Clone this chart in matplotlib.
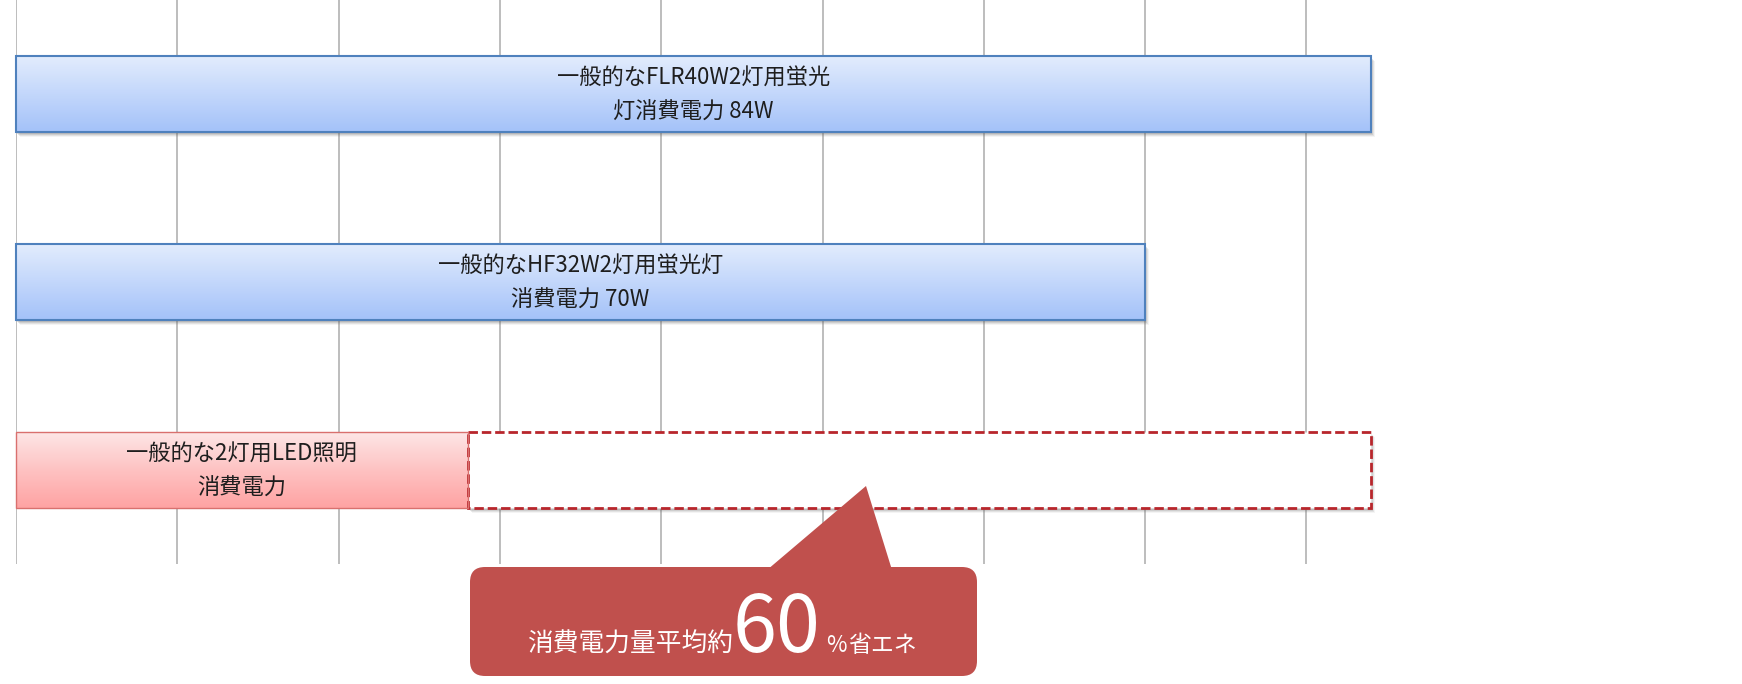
import numpy as np
import matplotlib.pyplot as plt
from matplotlib.colors import LinearSegmentedColormap
from matplotlib.patches import Rectangle, FancyBboxPatch, Polygon
from matplotlib.transforms import IdentityTransform, offset_copy

plt.rcParams['font.family'] = ['Noto Sans CJK JP', 'DejaVu Sans']

# data
line1 = ['一般的なFLR40W2灯用蛍光', '一般的なHF32W2灯用蛍光灯', '一般的な2灯用LED照明']
line2 = ['灯消費電力 84W', '消費電力 70W', '消費電力']
watts = [84, 70, 28]
reference_w = 84
callout_parts = ['消費電力量平均約', '60', '%', '省エネ']

W, H = 1742, 684
fig = plt.figure(figsize=(W / 100, H / 100), dpi=100)
ax = fig.add_axes([16 / W, 1 - 564 / H, (1371 - 16) / W, 564 / H])
ax.set_xlim(0, 84)
ax.set_ylim(2.5, -0.5)
ax.set_xticks(np.arange(0, 81, 10))
ax.set_yticks([])
ax.grid(axis='x', color='#b8b8b8', lw=1.3, zorder=0)
ax.tick_params(length=0, labelbottom=False)
for s in ax.spines.values():
    s.set_visible(False)
ax.set_axisbelow(True)

blue = LinearSegmentedColormap.from_list('b', ['#e2ecfd', '#c3d7fb', '#a4c2f9'])
red = LinearSegmentedColormap.from_list('r', ['#fde6e6', '#fec2c2', '#ffa3a3'])
grad = np.linspace(0, 1, 100).reshape(-1, 1)
h = 0.4

def shadow(x, y, w, hh):
    # soft grey shadow, shifted a few pixels right/down
    for ox, oy, a in [(4, -5, 0.07), (3, -4, 0.12), (2, -3, 0.16), (1, -2, 0.2)]:
        tr = offset_copy(ax.transData, fig=fig, x=ox, y=oy, units='dots')
        ax.add_patch(Rectangle((x, y), w, hh, transform=tr, facecolor='#666666',
                               edgecolor='none', alpha=a, zorder=1.5, clip_on=False))

# dashed "saved" box
shadow(watts[2], 2 - h / 2, reference_w - watts[2], h)
ax.add_patch(Rectangle((watts[2], 2 - h / 2), reference_w - watts[2], h, facecolor='white',
                       edgecolor='#b8262c', lw=2.0, linestyle=(0, (3.4, 1.4)), zorder=3, clip_on=False))

for i, v in enumerate(watts):
    cmap = red if i == 2 else blue
    ec = '#d9706e' if i == 2 else '#4f81bd'
    if i < 2:
        shadow(0, i - h / 2, v, h)
    ax.imshow(grad, cmap=cmap, aspect='auto', extent=(0, v, i + h / 2, i - h / 2),
              zorder=2, interpolation='bilinear')
    ax.add_patch(Rectangle((0, i - h / 2), v, h, facecolor='none', edgecolor=ec,
                           lw=1.5 if i < 2 else 1.0, zorder=3.5, clip_on=False))
    ax.text(v / 2, i - 0.085, line1[i], ha='center', va='center', fontsize=16, color='#1e1e1e', zorder=4)
    ax.text(v / 2, i + 0.095, line2[i], ha='center', va='center', fontsize=16, color='#1e1e1e', zorder=4)

ax.set_xlim(0, 84)
ax.set_ylim(2.5, -0.5)

# callout (pixel coordinates, origin top-left of image)
def px(x, y):
    return (x, H - y)

cc = '#c0504d'
fig.add_artist(FancyBboxPatch(px(470, 676), 507, 109, boxstyle='round,pad=0,rounding_size=15',
                              facecolor=cc, edgecolor='none', transform=IdentityTransform()))
fig.add_artist(Polygon([px(767, 570), px(866, 486), px(892, 570)], closed=True,
                       facecolor=cc, edgecolor='none', transform=IdentityTransform()))

base = H - 652
idt = IdentityTransform()
fig.text(527, base, callout_parts[0], fontsize=18.5, color='white', va='baseline', transform=idt)
fig.text(733, base, callout_parts[1], fontsize=57, color='white', va='baseline', transform=idt)
fig.text(826, base, callout_parts[2], fontsize=16, color='white', va='baseline', transform=idt)
fig.text(848, base, callout_parts[3], fontsize=16.5, color='white', va='baseline', transform=idt)

fig.savefig('out.png', dpi=100, facecolor='white')
